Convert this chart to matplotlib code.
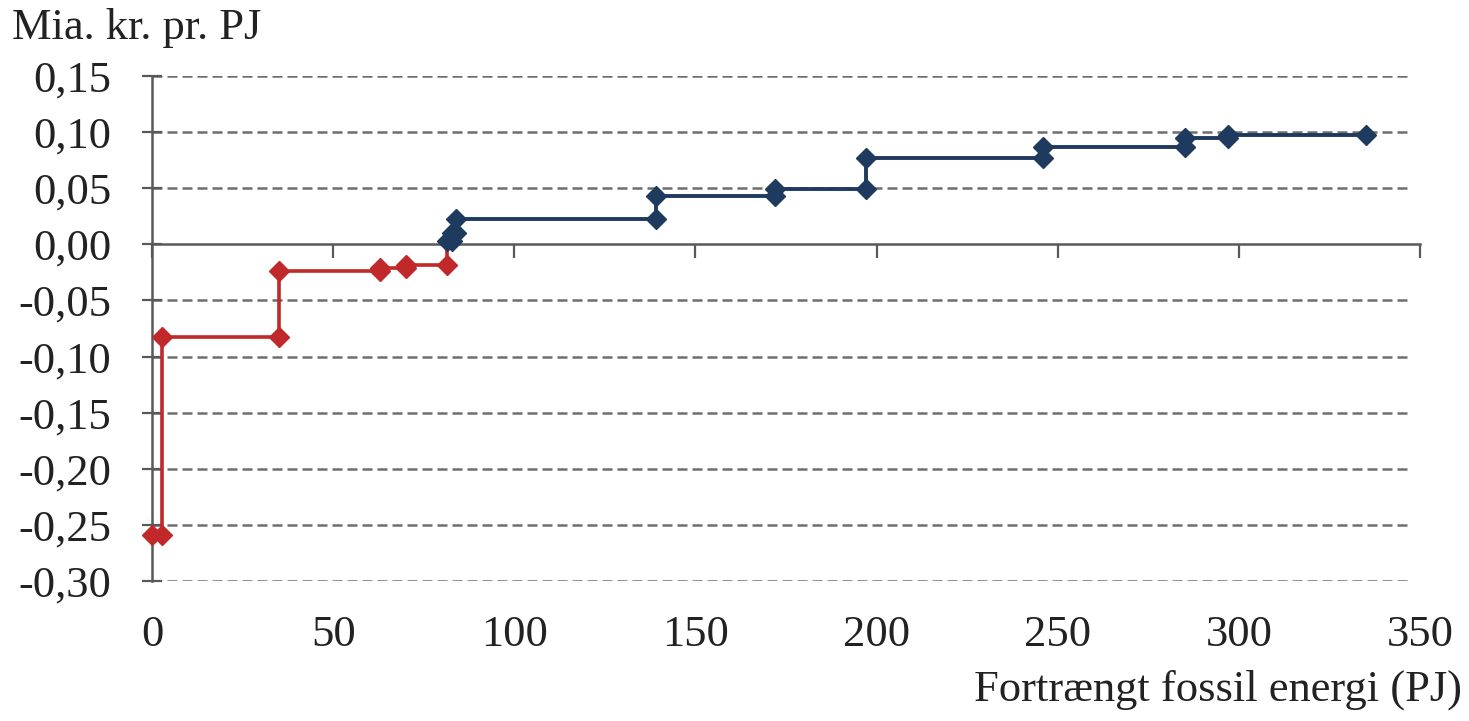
import numpy as np
import matplotlib
matplotlib.use("Agg")
import matplotlib.pyplot as plt
import matplotlib.transforms as mtransforms

plt.rcParams['font.family'] = ['Liberation Serif', 'DejaVu Serif']

# red part (negative cost measures)
red_x = [0, 2.7, 2.7, 35, 35, 63, 63, 70, 70, 81.3, 81.3]
red_y = [-0.259, -0.259, -0.083, -0.083, -0.024, -0.024, -0.021, -0.021,
         -0.018, -0.018, 0.0]

# blue part (positive cost measures)
blue_x = [81.3, 82.7, 82.7, 84, 84, 139, 139, 172, 172, 197, 197,
          246, 246, 285, 285, 297, 297, 335]
blue_y = [0.003, 0.003, 0.010, 0.010, 0.023, 0.023, 0.043, 0.043, 0.049,
          0.049, 0.077, 0.077, 0.087, 0.087, 0.095, 0.095, 0.097, 0.097]

xticks = [0, 50, 100, 150, 200, 250, 300, 350]
yticks = [0.15, 0.10, 0.05, 0.00, -0.05, -0.10, -0.15, -0.20, -0.25, -0.30]

red = '#c0282a'
blue = '#1f3a5f'
fs = 32

fig = plt.figure(figsize=(14.69, 7.21), dpi=100)
ax = fig.add_axes([152/1469, 1-581/721, (1420-152)/1469, (581-76)/721])

ax.set_xlim(0, 350)
ax.set_ylim(-0.30, 0.15)

for y in yticks:
    if y != 0:
        ax.axhline(y, xmax=0.993, color='#6e6e6e', lw=1.8, ls=(0, (4, 2)), zorder=1)

ax.plot(red_x, red_y, color=red, lw=2.6, marker='D', ms=10,
        markevery=list(range(len(red_x)-1)), zorder=3, clip_on=False)
ax.plot(blue_x, blue_y, color=blue, lw=2.8, marker='D', ms=10, zorder=4,
        clip_on=False)

for s in ['top', 'right']:
    ax.spines[s].set_visible(False)
ax.spines['bottom'].set_position(('data', 0))
for s in ['left', 'bottom']:
    ax.spines[s].set_color('#595959')
    ax.spines[s].set_linewidth(1.8)

ax.set_yticks(yticks)
ax.set_yticklabels([('%.2f' % v).replace('.', ',') for v in yticks])
ax.set_xticks(xticks)
ax.tick_params(axis='y', direction='inout', length=15, width=1.6,
               color='#595959', pad=22, labelsize=fs)
ax.tick_params(axis='x', direction='out', length=10, width=1.6,
               color='#595959', labelbottom=False)

trans = mtransforms.blended_transform_factory(ax.transData, fig.transFigure)
for xv in xticks:
    ax.text(xv, 1-635/721, str(xv), transform=trans, ha='center', va='center',
            fontsize=fs, color='#222222')

fig.text(12/1469, 1-28/721, 'Mia. kr. pr. PJ', ha='left', va='center',
         fontsize=fs, color='#222222')
fig.text(1462/1469, 1-690/721, 'Fortrængt fossil energi (PJ)', ha='right',
         va='center', fontsize=fs, color='#222222')

for lab in ax.get_yticklabels():
    lab.set_color('#222222')

fig.savefig('out.png', dpi=100)
